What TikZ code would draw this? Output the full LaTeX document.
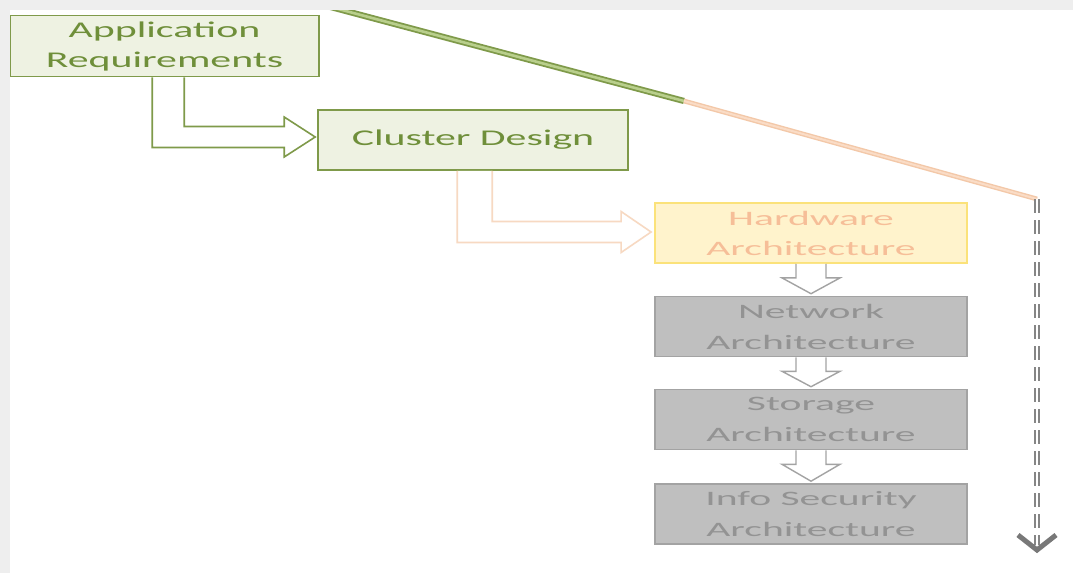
\documentclass[tikz,border=0pt]{standalone}
\usepackage{fontspec}
\setmainfont{Carlito}
\usetikzlibrary{calc}
\definecolor{olivedk}{HTML}{7F9A4A}
\definecolor{olivetx}{HTML}{6F8F3A}
\definecolor{olivelt}{HTML}{B9CF8C}
\definecolor{greenfill}{HTML}{EEF2E2}
\definecolor{yelfill}{HTML}{FFF3CC}
\definecolor{yelline}{HTML}{FBE27A}
\definecolor{peachtx}{HTML}{F6BE98}
\definecolor{peachln}{HTML}{F3C8A8}
\definecolor{peachlt}{HTML}{FADCC6}
\definecolor{grayfill}{HTML}{BFBFBF}
\definecolor{grayline}{HTML}{A3A3A3}
\definecolor{graytx}{HTML}{939393}
\definecolor{stripgray}{HTML}{EEEEEE}
\definecolor{dashgray}{HTML}{858585}
\newcommand{\stretchG}[1]{\scalebox{1.86}[1]{#1}}
\newcommand{\stretchR}[1]{\scalebox{2.03}[1]{#1}}
\tikzset{
  greenbox/.style={draw=olivedk, line width=1.6pt, fill=greenfill, text=olivetx,
    minimum height=61pt, inner sep=0pt, align=center,
    font=\fontsize{22.5}{30}\selectfont},
  hwbox/.style={draw=yelline, line width=1.8pt, fill=yelfill, text=peachtx,
    minimum width=312pt, minimum height=60pt, inner sep=0pt, align=center,
    font=\fontsize{20.5}{30}\selectfont},
  graybox/.style={draw=grayline, line width=1.6pt, fill=grayfill, text=graytx,
    minimum width=312pt, minimum height=60pt, inner sep=0pt, align=center,
    font=\fontsize{20.5}{31}\selectfont},
  greenblk/.style={draw=olivedk, line width=1.6pt, fill=white, line join=miter},
  peachblk/.style={draw=peachln!70!white, line width=1.6pt, fill=white, line join=miter},
  downblk/.style={draw=grayline, line width=1.4pt, fill=white, line join=miter},
  greentrack/.style={draw=olivedk, line width=1.8pt, double=olivelt, double distance=2.6pt},
  peachtrack/.style={draw=peachln, line width=1.4pt, double=peachlt, double distance=2pt},
  dashtrack/.style={draw=dashgray, line width=2pt, double=white, double distance=1.8pt,
    dash pattern=on 14pt off 7pt},
  chevron/.style={draw=dashgray!90!black, line width=5pt, line join=miter}
}
\newcommand{\layerarrow}[2]{%
  \filldraw[downblk] ($(#1.south)+(-15,0)$) -- ++(0,14) -- ++(-14,0)
    -- ($(#2.north)+(0,-2)$) -- ($(#1.south)+(29,14)$) -- ++(-14,0) -- ++(0,-14);}
\begin{document}
\begin{tikzpicture}[x=1pt,y=-1pt]
\useasboundingbox (0,0) rectangle (1073,573);
\fill[white] (0,0) rectangle (1073,573);

% process boxes
\node[greenbox, minimum width=309pt] (app) at (164.5,46)
  {\stretchG{Application}\\\stretchG{Requirements}};
\node[greenbox, minimum width=310pt, minimum height=60pt] (cluster) at (473,140)
  {\stretchG{Cluster Design}};
\node[hwbox] (hw) at (811,233) {\stretchR{Hardware}\\\stretchR{Architecture}};
\node[graybox] (net) at (811,326.5) {\stretchR{Network}\\\stretchR{Architecture}};
\node[graybox] (stor) at (811,419.5) {\stretchR{Storage}\\\stretchR{Architecture}};
\node[graybox] (sec) at (811,514) {\stretchR{Info Security}\\\stretchR{Architecture}};

% bent block arrows
\coordinate (t1) at ($(cluster.west)+(-2,-3)$);
\filldraw[greenblk] ($(app.south west)+(143,0)$) |- ($(t1)+(-31,10.5)$) -- ++(0,9.5)
  -- (t1) -- ++(-31,-20) -- ++(0,9.5) -| ($(app.south west)+(175,0)$);
\coordinate (t2) at ($(hw.west)+(-3,-1)$);
\filldraw[peachblk] ($(cluster.south west)+(140,0)$) |- ($(t2)+(-30,10.5)$) -- ++(0,10)
  -- (t2) -- ++(-30,-20.5) -- ++(0,10) -| ($(cluster.south west)+(175,0)$);

% straight block arrows between the architecture layers
\layerarrow{hw}{net}
\layerarrow{net}{stor}
\layerarrow{stor}{sec}

% progress track
\coordinate (d0) at (327,6);
\coordinate (d1) at (684,101);
\coordinate (d2) at (1037,199);
\coordinate (d3) at (1037,545);
\draw[greentrack] (d0) -- (d1);
\draw[peachtrack] (d1) -- (d2);
\draw[dashtrack] (d2) -- (d3);
\draw[chevron] ($(d3)+(-19,-10)$) -- ($(d3)+(0,5)$) -- ($(d3)+(19,-10)$);

% frame edges
\fill[stripgray] (0,0) rectangle (1073,10);
\fill[stripgray] (0,0) rectangle (10,573);
\end{tikzpicture}
\end{document}
